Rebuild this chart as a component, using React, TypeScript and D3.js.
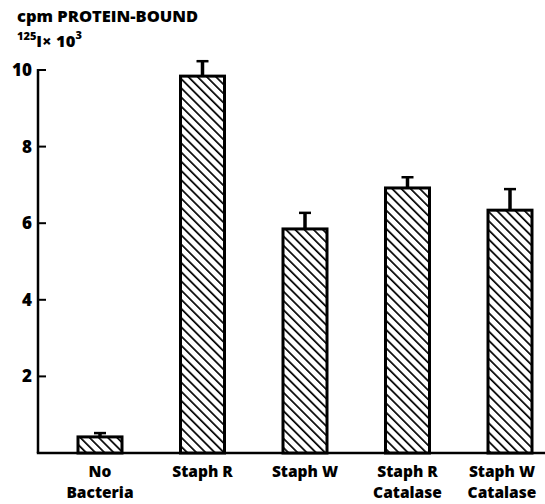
import React from "react";
import * as d3 from "d3";

const categories = ["No Bacteria", "Staph R", "Staph W", "Staph R Catalase", "Staph W Catalase"];
const labelLines = [["No", "Bacteria"], ["Staph R"], ["Staph W"], ["Staph R", "Catalase"], ["Staph W", "Catalase"]];
const values = [0.42, 9.84, 5.85, 6.92, 6.34];
const errors = [0.1, 0.39, 0.42, 0.28, 0.55];
const yTicks = [2, 4, 6, 8, 10];

const W = 545;
const H = 504;
const FONT = "'Open Sans', 'DejaVu Sans', sans-serif";

export default function App() {
  const x = d3.scalePoint<string>().domain(categories).range([100, 510]);
  const y = d3.scaleLinear().domain([0, 10]).range([453, 70]);
  const axisX = 38;
  const barW = 44;

  return (
    <svg width={W} height={H} style={{ position: "absolute", left: 0, top: 0, background: "#fff" }}>
      <defs>
        <pattern id="hatch" patternUnits="userSpaceOnUse" width="6.5" height="6.5" patternTransform="rotate(-45)">
          <rect width="6.5" height="6.5" fill="#fff" />
          <line x1="0" y1="0" x2="0" y2="6.5" stroke="#000" strokeWidth="3.4" />
        </pattern>
      </defs>
      <text x={17} y={22} fontFamily={FONT} fontWeight={800} fontSize={16.5} fill="#000">
        cpm PROTEIN-BOUND
      </text>
      <text x={17} y={47} fontFamily={FONT} fontWeight={800} fontSize={16.5} fill="#000">
        <tspan fontSize={11} dy={-7}>125</tspan>
        <tspan dy={7}>I× 10</tspan>
        <tspan fontSize={11} dy={-8}>3</tspan>
      </text>
      {/* axes */}
      <line x1={axisX} y1={y(10) - 1} x2={axisX} y2={y(0)} stroke="#000" strokeWidth={2.5} />
      <line x1={axisX - 1.2} y1={y(0)} x2={W} y2={y(0)} stroke="#000" strokeWidth={2.5} />
      {yTicks.map((t) => (
        <g key={t}>
          <line x1={axisX} y1={y(t)} x2={axisX + 8} y2={y(t)} stroke="#000" strokeWidth={2} />
          <text x={axisX - 6} y={y(t) + 6} textAnchor="end" fontFamily={FONT} fontWeight={800} fontSize={17} fill="#000">
            {t}
          </text>
        </g>
      ))}
      {/* bars */}
      {categories.map((c, i) => {
        const cx = x(c)!;
        const top = y(values[i]);
        const capY = y(values[i] + errors[i]);
        return (
          <g key={c}>
            <line x1={cx} y1={top} x2={cx} y2={capY} stroke="#000" strokeWidth={3.5} />
            <line x1={cx - 6} y1={capY} x2={cx + 6} y2={capY} stroke="#000" strokeWidth={2.5} />
            <rect x={cx - barW / 2} y={top} width={barW} height={y(0) - top} fill="url(#hatch)" stroke="#000" strokeWidth={3} />
          </g>
        );
      })}
      {/* labels */}
      {categories.map((c, i) => {
        const lx = Math.min(x(c)!, 502);
        return (
          <text key={c} textAnchor="middle" fontFamily={FONT} fontWeight={800} fontSize={15.5} fill="#000">
            {labelLines[i].map((l, j) => (
              <tspan key={j} x={lx} y={477 + j * 21}>
                {l}
              </tspan>
            ))}
          </text>
        );
      })}
    </svg>
  );
}
